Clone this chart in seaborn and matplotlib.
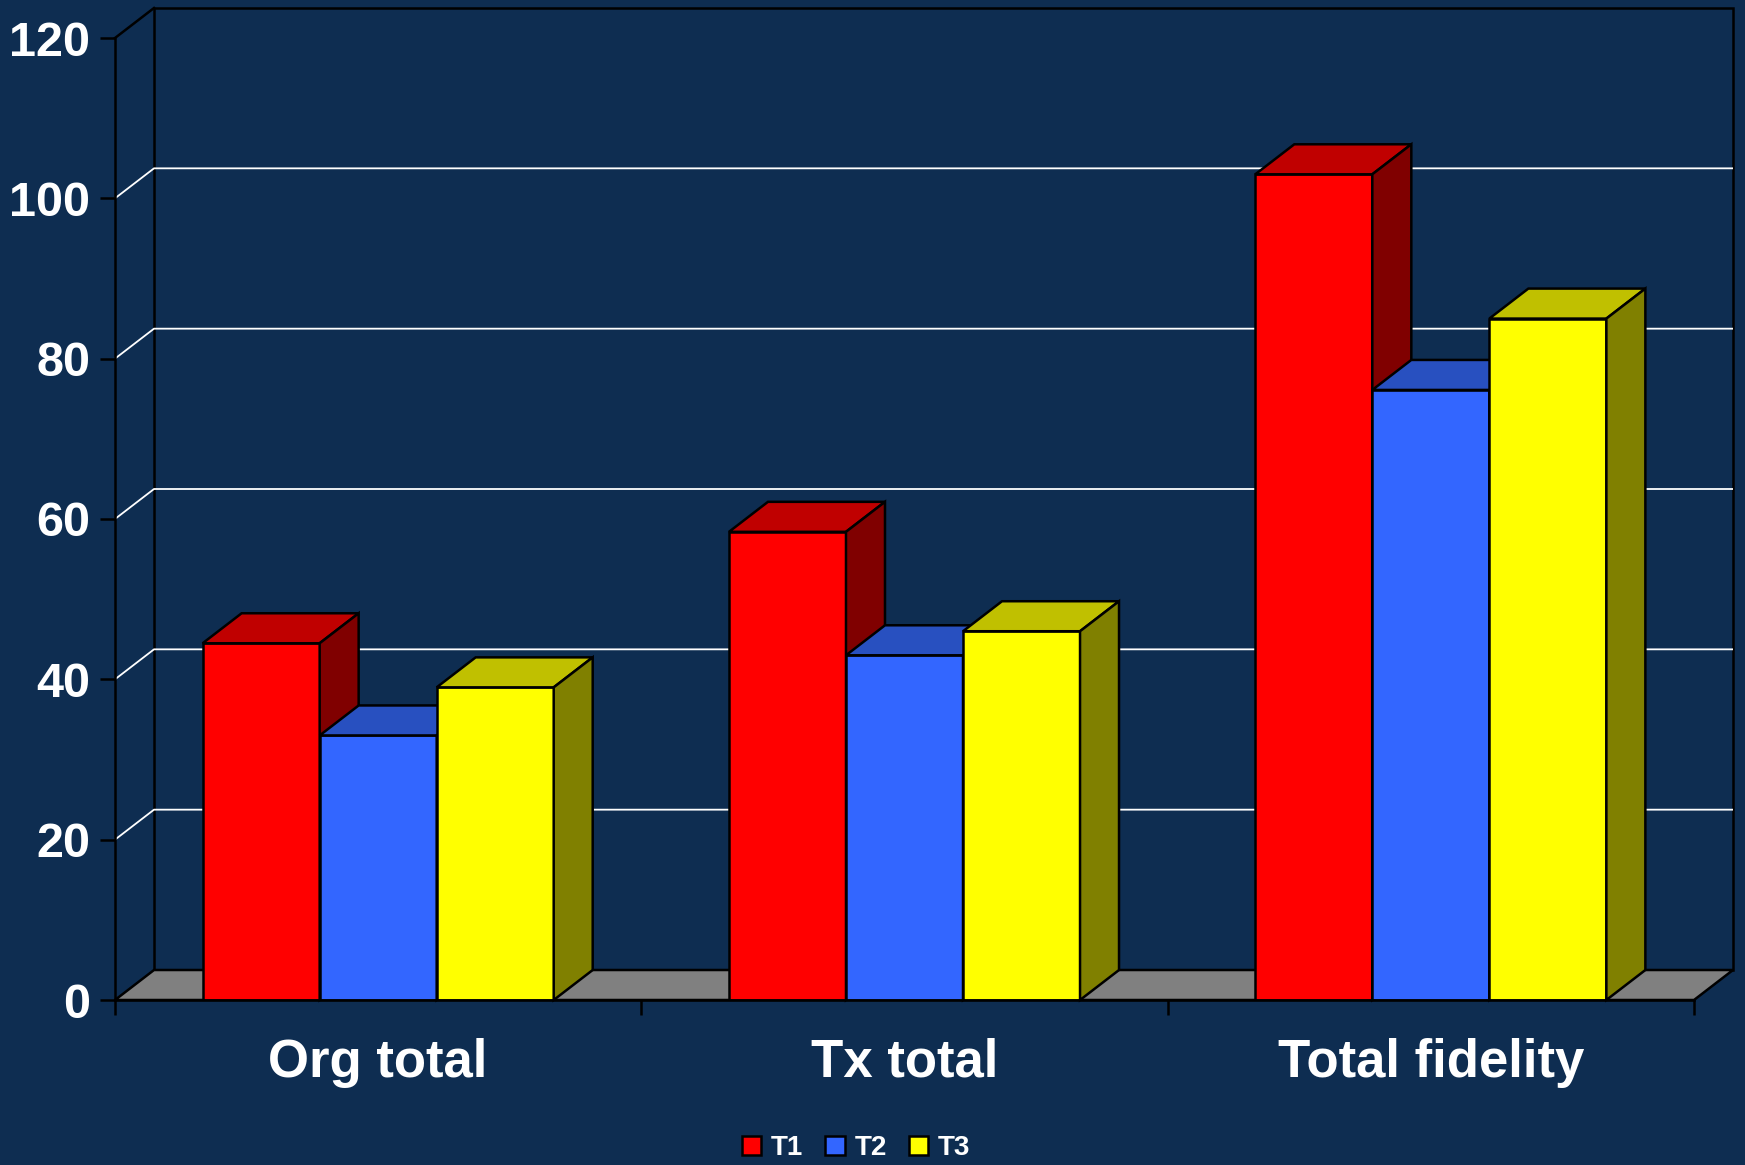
import matplotlib
matplotlib.use('Agg')
import matplotlib.pyplot as plt
import seaborn as sns
import pandas as pd
from matplotlib.patches import Polygon, Patch

categories = ['Org total', 'Tx total', 'Total fidelity']
series = ['T1', 'T2', 'T3']
t1 = [44.5, 58.4, 103.0]
t2 = [33.0, 43.0, 76.1]
t3 = [39.0, 46.0, 85.0]
y_ticks = [0, 20, 40, 60, 80, 100, 120]

front_colors = ['#FF0000', '#3366FF', '#FFFF00']
top_colors = ['#C00000', '#2850C0', '#C0C000']
side_colors = ['#800000', '#1A3380', '#808000']
bg = '#0E2D51'

rows = []
for s, vals in zip(series, [t1, t2, t3]):
    for c, v in zip(categories, vals):
        rows.append({'category': c, 'series': s, 'value': v})
df = pd.DataFrame(rows)

plt.rcParams['font.family'] = ['Liberation Sans', 'DejaVu Sans']

W, H = 1745, 1165
fig = plt.figure(figsize=(W / 100, H / 100), dpi=100, facecolor=bg)
left_px, right_px, bottom_px, top_px = 115, 1694, 1000, 38
ax = fig.add_axes([left_px / W, (H - bottom_px) / H,
                   (right_px - left_px) / W, (bottom_px - top_px) / H])
ax.set_facecolor('none')

EW = 1.8
sns.barplot(data=df, x='category', y='value', hue='series', order=categories,
            hue_order=series, palette=front_colors, saturation=1, width=0.667,
            edgecolor='black', linewidth=EW, legend=False, ax=ax)

x0, x1 = -0.5, len(categories) - 0.5
ymax = y_ticks[-1]
ax.set_xlim(x0, x1)
ax.set_ylim(0, ymax)

# depth offset (pixels -> data units)
DX = 39 / ((right_px - left_px) / (x1 - x0))
DY = 30 / ((bottom_px - top_px) / ymax)

# back wall
ax.add_patch(Polygon([(x0 + DX, DY), (x1 + DX, DY), (x1 + DX, ymax + DY), (x0 + DX, ymax + DY)],
                     closed=True, facecolor=bg, edgecolor='black', lw=EW,
                     clip_on=False, zorder=0.5))
# gridlines on side wall + back wall
for v in y_ticks[1:-1]:
    ax.plot([x0, x0 + DX, x1 + DX], [v, v + DY, v + DY], color='white', lw=1.3,
            clip_on=False, zorder=0.8, solid_capstyle='butt')
ax.plot([x0, x0 + DX], [ymax, ymax + DY], color='black', lw=EW, clip_on=False, zorder=0.9)
# floor
ax.add_patch(Polygon([(x0, 0), (x1, 0), (x1 + DX, DY), (x0 + DX, DY)], closed=True,
                     facecolor='#808080', edgecolor='black', lw=EW, clip_on=False, zorder=1))

# 3D faces on bars
for i, cont in enumerate(ax.containers):
    z = 3 + i * 0.1
    for bar in cont:
        bx, bw, bh = bar.get_x(), bar.get_width(), bar.get_height()
        bar.set_zorder(z)
        ax.add_patch(Polygon([(bx, bh), (bx + bw, bh), (bx + bw + DX, bh + DY), (bx + DX, bh + DY)],
                             closed=True, facecolor=top_colors[i], edgecolor='black', lw=EW,
                             clip_on=False, zorder=z))
        ax.add_patch(Polygon([(bx + bw, 0), (bx + bw + DX, DY), (bx + bw + DX, bh + DY), (bx + bw, bh)],
                             closed=True, facecolor=side_colors[i], edgecolor='black', lw=EW,
                             clip_on=False, zorder=z))

# axes styling
for sp in ['top', 'right']:
    ax.spines[sp].set_visible(False)
for sp in ['left', 'bottom']:
    ax.spines[sp].set_color('black')
    ax.spines[sp].set_linewidth(EW)
    ax.spines[sp].set_zorder(5)

ax.set_xlabel('')
ax.set_ylabel('')
ax.set_yticks(y_ticks)
ax.set_yticklabels([str(t) for t in y_ticks])
ax.tick_params(axis='y', length=10.8, width=EW, color='black', labelsize=35,
               labelcolor='white', pad=7)
ax.set_xticks(range(len(categories)))
ax.set_xticklabels(categories)
ax.set_xticks([x0 + k for k in range(len(categories) + 1)], minor=True)
ax.tick_params(axis='x', which='major', length=0, pad=27, labelsize=38, labelcolor='white')
ax.tick_params(axis='x', which='minor', length=10.8, width=EW, color='black')
for lbl in ax.get_xticklabels() + ax.get_yticklabels():
    lbl.set_fontweight('bold')

handles = [Patch(facecolor=c, edgecolor='black', linewidth=EW) for c in front_colors]
fig.legend(handles, series, loc='center', bbox_to_anchor=(856 / W, 17 / H), ncol=3,
           frameon=False, handlelength=0.7, handleheight=0.7, handletextpad=0.35,
           columnspacing=0.8, prop={'weight': 'bold', 'size': 20}, labelcolor='white')

fig.savefig('out.png', dpi=100, facecolor=bg)
